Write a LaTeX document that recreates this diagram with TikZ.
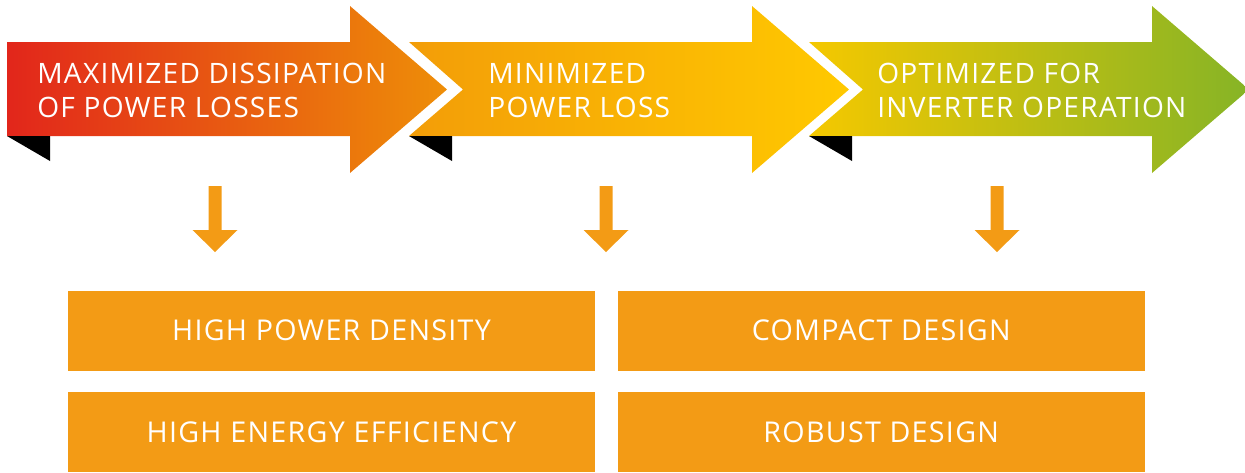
\documentclass[tikz,border=0pt]{standalone}
\usepackage{fontspec}
\setmainfont{Open Sans}
\newfontfamily\spacedfont{Open Sans}[LetterSpace=4.5]
\usepackage{xcolor}
\usepackage{tikz}
\usetikzlibrary{positioning}

\definecolor{redA}{RGB}{226,38,27}
\definecolor{midA}{RGB}{231,96,22}
\definecolor{orangeA}{RGB}{238,142,8}
\definecolor{orangeB}{RGB}{243,157,8}
\definecolor{midB}{RGB}{252,196,0}
\definecolor{yellowB}{RGB}{255,201,0}
\definecolor{yellowC}{RGB}{245,200,0}
\definecolor{midC}{RGB}{178,187,10}
\definecolor{greenC}{RGB}{134,180,38}
\definecolor{boxorange}{RGB}{243,155,21}

\begin{document}
\begin{tikzpicture}[
    x=0.2mm, y=-0.2mm,%1 unit = 1 px
    node distance=4.2mm and 4.4mm,
    arrowtext/.style={
        text = white,
        align = left,
        anchor = base west, %base of the last line
        inner sep = 0pt,
        font = \spacedfont\fontsize{16}{18.8}\selectfont
      },
    featurebox/.style={
        rectangle, % shape
        fill = boxorange,
        minimum width = 105.4mm,
        minimum height = 16mm,
        inner sep = 0pt,
        text = white,
        font = \spacedfont\fontsize{16.3}{19}\selectfont
      },
    fold/.style={fill = black}
  ]
  \useasboundingbox (0,0) rectangle (1245,472);

  % the three big arrows
  \path[left color=redA, middle color=midA, right color=orangeA]
    (7,42) -- (350,42) -- (350,6) -- (447,89.5) -- (350,173) -- (350,136) -- (7,136) -- cycle;
  \path[left color=orangeB, middle color=midB, right color=yellowB]
    (409,42) -- (752,42) -- (752,6) -- (849,89.5) -- (752,173) -- (752,136) -- (409,136) -- (463,89.5) -- cycle;
  \path[left color=yellowC, middle color=midC, right color=greenC]
    (809,42) -- (1152,42) -- (1152,6) -- (1249,89.5) -- (1152,173) -- (1152,136) -- (809,136) -- (863,89.5) -- cycle;

  % folds under the tails
  \fill[fold] (7,136) -- (50,136) -- (50,161) -- cycle;
  \fill[fold] (409,136) -- (452,136) -- (452,161) -- cycle;
  \fill[fold] (809,136) -- (852,136) -- (852,161) -- cycle;

  \node (dissipation) [arrowtext] at (37,117) {MAXIMIZED DISSIPATION\\OF POWER LOSSES};
  \node (loss) [arrowtext] at (488,117) {MINIMIZED\\POWER LOSS};
  \node (inverter) [arrowtext] at (877,117) {OPTIMIZED FOR\\INVERTER OPERATION};

  % small down arrows
  \foreach \cx in {215,606,997}
    \fill[boxorange] (\cx-6.5,186) -- (\cx+6.5,186) -- (\cx+6.5,230) -- (\cx+22.5,230)
      -- (\cx,252) -- (\cx-22.5,230) -- (\cx-6.5,230) -- cycle;

  \node (density) [featurebox] at (331.5,330.5) {HIGH POWER DENSITY};
  \node (compact) [featurebox,right=of density] {COMPACT DESIGN};
  \node (efficiency) [featurebox,below=of density] {HIGH ENERGY EFFICIENCY};
  \node (robust) [featurebox,below=of compact] {ROBUST DESIGN};
\end{tikzpicture}
\end{document}
